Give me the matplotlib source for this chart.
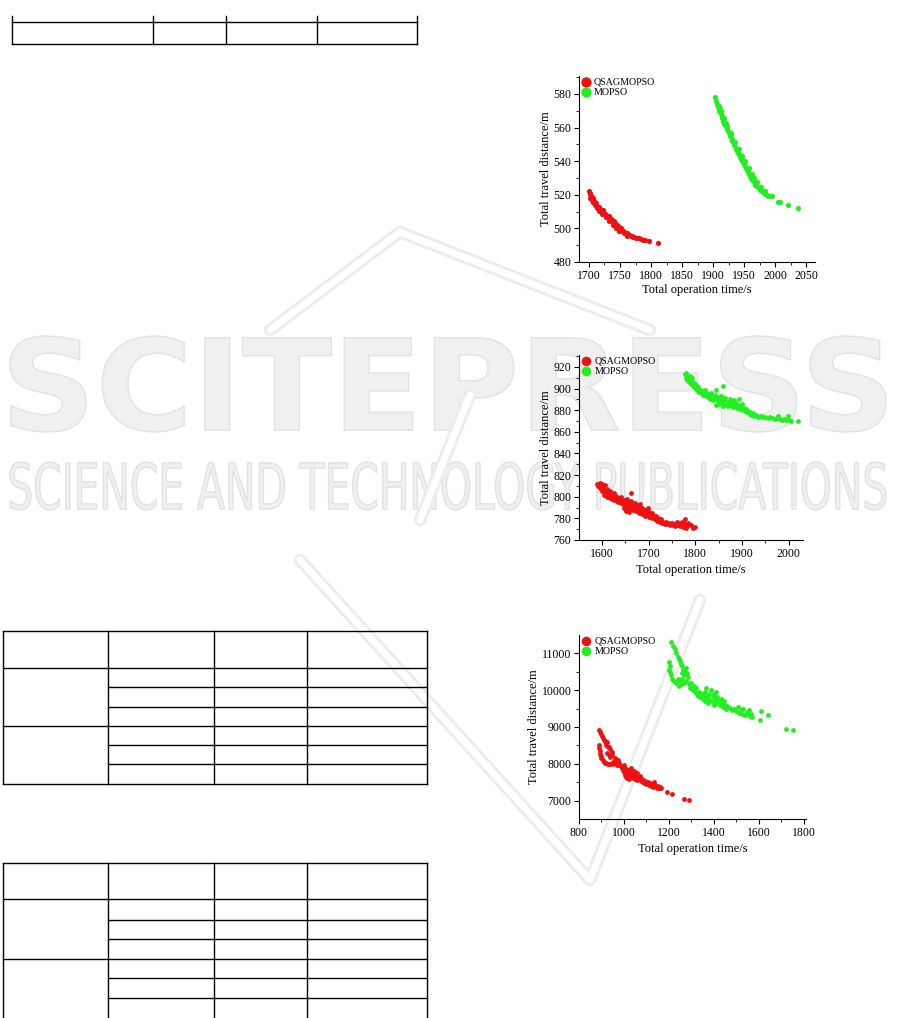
import matplotlib
matplotlib.use('Agg')
import matplotlib.pyplot as plt
import numpy as np
from matplotlib.textpath import TextPath
from matplotlib.font_manager import FontProperties
from matplotlib.patches import PathPatch
from matplotlib.ticker import AutoMinorLocator
import matplotlib.transforms as mtransforms

plt.rcParams['font.family'] = 'Liberation Serif'

W, H = 901, 1018
RED = '#ee1111'
GREEN = '#22ee22'
labels = ['QSAGMOPSO', 'MOPSO']

# ---- data: (total operation time, total travel distance) ----
red1 = np.array([
    [1700, 522], [1701, 520.5], [1702, 521], [1703, 519], [1704, 518.5], [1705, 517], [1706, 518],
    [1707, 516], [1708, 516.5], [1710, 515], [1711, 514], [1712, 515], [1714, 513], [1715, 512.5],
    [1716, 513], [1718, 511.5], [1719, 511], [1720, 510.5], [1722, 510], [1723, 510.8], [1725, 509],
    [1726, 508.5], [1728, 508], [1729, 507], [1731, 506.5], [1732, 507.2], [1734, 506], [1735, 505.5],
    [1737, 505], [1738, 504], [1740, 503.5], [1741, 504.2], [1743, 502.5], [1745, 502], [1746, 501.5],
    [1748, 500.8], [1750, 500], [1751, 500.5], [1753, 499], [1755, 498.5], [1757, 498], [1759, 497.2],
    [1761, 497], [1763, 496.5], [1765, 496], [1767, 495.5], [1769, 495.2], [1771, 495], [1773, 494.8],
    [1775, 494.5], [1778, 494.5], [1781, 494], [1784, 493.5], [1787, 493], [1790, 493], [1796, 492.5],
    [1812, 491.5], [1702, 518], [1706, 515.5], [1709, 514], [1713, 512], [1717, 510.5], [1721, 508.5],
    [1727, 506.5], [1733, 504.5], [1739, 502], [1744, 500.5], [1749, 498.5], [1756, 497], [1762, 495.5]])
green1 = np.array([
    [1903, 578], [1905, 576], [1907, 574], [1908, 572], [1910, 570], [1911, 571], [1912, 568],
    [1914, 566], [1915, 567], [1916, 564], [1918, 562], [1920, 561], [1921, 562.5], [1922, 559],
    [1924, 558], [1925, 556.5], [1927, 555], [1928, 556], [1930, 553], [1931, 552], [1933, 551],
    [1934, 549.5], [1936, 548], [1937, 547], [1939, 546], [1940, 545], [1942, 544], [1943, 542.5],
    [1945, 541.5], [1947, 540], [1948, 541], [1950, 538.5], [1951, 537], [1953, 536], [1955, 535],
    [1956, 533.5], [1958, 532.5], [1960, 531], [1961, 530], [1963, 529], [1965, 528], [1967, 527],
    [1968, 526], [1970, 525.5], [1972, 524.5], [1974, 524], [1976, 523], [1978, 522], [1980, 521.5],
    [1982, 521], [1984, 520.5], [1986, 520], [1988, 519.5], [1991, 519.5], [1994, 519], [2005, 516],
    [2008, 515.5], [2020, 514], [2037, 512], [1909, 573], [1913, 570], [1917, 566], [1923, 561],
    [1929, 557], [1935, 551.5], [1941, 547.5], [1946, 543], [1952, 540], [1957, 536], [1962, 532.5],
    [1966, 530], [1971, 527.5], [1977, 524.5], [1983, 522.5]])

red2 = np.array([
    [1590, 812], [1592, 810], [1595, 813], [1597, 808], [1598, 811], [1600, 812], [1601, 805],
    [1603, 809], [1604, 802], [1605, 806], [1607, 811], [1608, 804], [1610, 807], [1612, 800],
    [1613, 803], [1615, 801], [1617, 805], [1618, 799], [1620, 802], [1622, 798], [1624, 800],
    [1625, 803], [1627, 797], [1628, 799], [1630, 801], [1632, 796], [1634, 798], [1635, 795],
    [1637, 799], [1638, 797], [1640, 794], [1641, 800], [1643, 796], [1645, 793], [1647, 797],
    [1648, 790], [1650, 795], [1651, 787], [1652, 792], [1654, 798], [1655, 794], [1657, 790],
    [1658, 786], [1660, 793], [1661, 789], [1662, 803], [1663, 796], [1665, 791], [1667, 788],
    [1668, 793], [1670, 790], [1671, 794], [1673, 787], [1675, 792], [1676, 789], [1678, 791],
    [1679, 785], [1680, 788], [1682, 793], [1684, 787], [1685, 790], [1687, 784], [1688, 789],
    [1690, 786], [1692, 788], [1693, 782], [1695, 785], [1696, 787], [1698, 784], [1699, 790],
    [1700, 786], [1702, 781], [1703, 784], [1705, 782], [1707, 785], [1708, 780], [1710, 783],
    [1712, 781], [1713, 779], [1715, 782], [1717, 780], [1718, 778], [1720, 780], [1722, 778],
    [1724, 777], [1726, 779], [1728, 776], [1730, 777], [1732, 776], [1735, 775], [1737, 777],
    [1740, 775], [1743, 776], [1745, 774], [1748, 775], [1750, 776], [1752, 774], [1755, 775],
    [1757, 773], [1760, 775], [1762, 777], [1764, 774], [1766, 776], [1768, 773], [1770, 775],
    [1772, 777], [1774, 772], [1776, 776], [1778, 779], [1779, 773], [1781, 771], [1783, 773],
    [1785, 776], [1792, 774], [1795, 771], [1800, 772]])
green2 = np.array([
    [1778, 913], [1780, 910], [1781, 914], [1783, 908], [1784, 911], [1786, 906], [1787, 909],
    [1789, 912], [1790, 904], [1792, 907], [1793, 910], [1795, 903], [1797, 905], [1798, 901],
    [1800, 904], [1802, 900], [1804, 902], [1805, 898], [1807, 901], [1809, 897], [1810, 899],
    [1812, 896], [1814, 898], [1816, 894], [1818, 897], [1820, 895], [1822, 899], [1824, 893],
    [1826, 896], [1828, 892], [1830, 894], [1832, 890], [1834, 896], [1836, 893], [1838, 889],
    [1840, 891], [1842, 894], [1844, 899], [1845, 885], [1846, 889], [1848, 892], [1850, 888],
    [1852, 886], [1854, 890], [1856, 893], [1858, 887], [1859, 902], [1860, 884], [1862, 889],
    [1864, 891], [1866, 886], [1868, 888], [1870, 884], [1872, 887], [1874, 890], [1876, 885],
    [1878, 888], [1880, 883], [1882, 886], [1884, 889], [1886, 884], [1888, 887], [1890, 882],
    [1892, 885], [1894, 890], [1896, 881], [1898, 884], [1900, 886], [1902, 880], [1904, 882],
    [1906, 879], [1908, 881], [1910, 878], [1912, 880], [1915, 877], [1918, 878], [1920, 876],
    [1923, 877], [1926, 875], [1930, 876], [1935, 874], [1940, 875], [1945, 874], [1950, 874],
    [1955, 873], [1960, 874], [1965, 873], [1970, 872], [1975, 873], [1978, 875], [1982, 872],
    [1985, 871], [1990, 872], [1995, 871], [1998, 875], [2000, 871], [2005, 870], [2020, 870]])

red3 = np.array([
    [890, 8930], [895, 8870], [900, 8800], [903, 8750], [906, 8700], [910, 8650], [915, 8620],
    [920, 8580], [925, 8600], [918, 8520], [928, 8470], [935, 8460], [940, 8400], [945, 8330],
    [948, 8250], [940, 8200], [932, 8230], [925, 8300], [890, 8500], [888, 8420], [892, 8350],
    [895, 8280], [898, 8220], [900, 8150], [905, 8100], [910, 8060], [915, 8030], [922, 8020],
    [930, 8010], [938, 8000], [945, 8020], [950, 7990], [955, 8080], [960, 8150], [965, 8050],
    [968, 7970], [972, 8100], [975, 7980], [980, 8020], [985, 7950], [990, 7900], [995, 7850],
    [998, 7970], [1000, 7780], [1003, 7700], [1005, 7900], [1008, 7650], [1010, 7800], [1012, 7620],
    [1015, 7750], [1018, 7680], [1020, 7850], [1022, 7600], [1025, 7720], [1028, 7800], [1030, 7650],
    [1032, 7900], [1035, 7700], [1038, 7620], [1040, 7760], [1042, 7680], [1045, 7820], [1048, 7600],
    [1050, 7700], [1055, 7650], [1058, 7750], [1060, 7580], [1065, 7620], [1070, 7680], [1075, 7550],
    [1080, 7600], [1085, 7520], [1090, 7480], [1095, 7550], [1100, 7460], [1105, 7500], [1110, 7420],
    [1115, 7480], [1120, 7400], [1125, 7450], [1130, 7380], [1135, 7500], [1140, 7420], [1145, 7360],
    [1150, 7400], [1155, 7340], [1160, 7380], [1165, 7350], [1190, 7250], [1215, 7200], [1265, 7050],
    [1290, 7030]])
green3 = np.array([
    [1210, 11300], [1218, 11200], [1225, 11100], [1232, 11000], [1238, 10900], [1245, 10850],
    [1250, 10780], [1255, 10700], [1260, 10650], [1262, 10550], [1258, 10450], [1265, 10400],
    [1270, 10500], [1275, 10600], [1280, 10450], [1283, 10350], [1275, 10250], [1268, 10200],
    [1260, 10300], [1255, 10150], [1200, 10750], [1203, 10650], [1198, 10550], [1205, 10480],
    [1210, 10400], [1215, 10300], [1222, 10250], [1230, 10200], [1240, 10300], [1245, 10100],
    [1250, 10250], [1290, 10150], [1295, 10050], [1300, 10200], [1305, 10000], [1310, 10100],
    [1315, 9950], [1320, 10050], [1325, 9900], [1330, 9850], [1335, 9950], [1340, 9800],
    [1345, 9900], [1350, 9750], [1355, 9850], [1360, 9950], [1362, 9700], [1365, 10050],
    [1370, 9800], [1375, 9650], [1378, 9900], [1380, 9750], [1385, 10000], [1390, 9700],
    [1395, 9850], [1398, 9600], [1400, 9900], [1405, 9750], [1408, 9950], [1410, 9650],
    [1415, 9800], [1420, 9700], [1425, 9600], [1430, 9750], [1435, 9650], [1440, 9550],
    [1445, 9700], [1450, 9600], [1455, 9500], [1460, 9580], [1470, 9520], [1480, 9450],
    [1490, 9500], [1500, 9420], [1505, 9550], [1510, 9380], [1520, 9450], [1525, 9350],
    [1530, 9480], [1540, 9320], [1545, 9400], [1550, 9350], [1555, 9450], [1560, 9300],
    [1565, 9360], [1570, 9280], [1605, 9200], [1610, 9420], [1640, 9320], [1720, 8950],
    [1750, 8920]])

xticks1 = [1700, 1750, 1800, 1850, 1900, 1950, 2000, 2050]
yticks1 = [480, 500, 520, 540, 560, 580]
xticks2 = [1600, 1700, 1800, 1900, 2000]
yticks2 = [760, 780, 800, 820, 840, 860, 880, 900, 920]
xticks3 = [800, 1000, 1200, 1400, 1600, 1800]
yticks3 = [7000, 8000, 9000, 10000, 11000]


def rect(l, t, r, b):
    # pixel box (top-left origin) -> figure fraction
    return [l / W, 1 - b / H, (r - l) / W, (b - t) / H]


fig = plt.figure(figsize=(W / 100, H / 100), dpi=100)

# page overlay: tables and watermark
bg = fig.add_axes([0, 0, 1, 1], zorder=-1)
bg.set_xlim(0, W)
bg.set_ylim(H, 0)
bg.axis('off')


def fit_text(s, l, t, r, b, weight='bold'):
    tp = TextPath((0, 0), s, size=100, prop=FontProperties(family='DejaVu Sans', weight=weight))
    ext = tp.get_extents()
    tr = (mtransforms.Affine2D().translate(-ext.x0, -ext.y0)
          .scale((r - l) / ext.width, -(b - t) / ext.height).translate(l, b))
    bg.add_patch(PathPatch(tr.transform_path(tp), fc='#f0f0f0', ec='#e2e2e2', lw=1.0))


# faint book logo behind the watermark text
for pts in ([(270, 330), (400, 232), (650, 330)],
            [(300, 560), (590, 880), (700, 600)],
            [(470, 395), (420, 520)]):
    px, py = zip(*pts)
    bg.plot(px, py, c='#ececec', lw=9, solid_capstyle='round', solid_joinstyle='round')
    bg.plot(px, py, c='white', lw=5, solid_capstyle='round', solid_joinstyle='round')

fit_text('SCITEPRESS', 10, 336, 886, 432)
fit_text('SCIENCE AND TECHNOLOGY PUBLICATIONS', 10, 462, 886, 510, weight='normal')


def table_lines(hs, vs, y0, y1):
    for (y, xa, xb) in hs:
        bg.plot([xa, xb], [y, y], c='k', lw=1.0)
    for x in vs:
        bg.plot([x, x], [y0, y1], c='k', lw=1.0)


table_lines([(22, 12, 417), (44, 12, 417)], [12, 153, 226, 317, 417], 16, 44)
vcols = [3, 108, 214, 307, 427]
table_lines([(631, 3, 427), (668, 3, 427), (687, 108, 427), (707, 108, 427), (726, 3, 427),
             (745, 108, 427), (764, 108, 427), (784, 3, 427)], vcols, 631, 784)
table_lines([(863, 3, 427), (899, 3, 427), (920, 108, 427), (939, 108, 427), (959, 3, 427),
             (978, 108, 427), (998, 108, 427)], vcols, 863, 1018)


def scatter_panel(box, red, green, xlim, ylim, xticks, yticks, size=12, xpad=3):
    ax = fig.add_axes(rect(*box))
    ax.patch.set_alpha(0)
    ax.scatter(red[:, 0], red[:, 1], s=size, c=RED, lw=0, label=labels[0])
    ax.scatter(green[:, 0], green[:, 1], s=size, c=GREEN, lw=0, label=labels[1])
    ax.set_xlim(*xlim)
    ax.set_ylim(*ylim)
    ax.set_xticks(xticks)
    ax.set_yticks(yticks)
    ax.xaxis.set_minor_locator(AutoMinorLocator(2))
    ax.yaxis.set_minor_locator(AutoMinorLocator(2))
    ax.spines['top'].set_visible(False)
    ax.spines['right'].set_visible(False)
    for sp in ('left', 'bottom'):
        ax.spines[sp].set_linewidth(0.8)
    ax.tick_params(which='major', direction='out', length=3.5, width=0.8, labelsize=8.5, pad=2)
    ax.tick_params(which='minor', direction='out', length=2, width=0.6)
    ax.set_xlabel('Total operation time/s', fontsize=9, labelpad=xpad)
    ax.set_ylabel('Total travel distance/m', fontsize=9, labelpad=1)
    ax.legend(loc='upper left', bbox_to_anchor=(-0.025, 1.03), frameon=False, fontsize=7.2,
              markerscale=2.0, handletextpad=0.2, labelspacing=0.15, borderaxespad=0.3,
              handlelength=1.2)
    return ax


scatter_panel((579, 76, 815, 262), red1, green1, (1684, 2064), (480, 590.7), xticks1, yticks1,
              size=14, xpad=2)
scatter_panel((579, 355, 803, 540), red2, green2, (1551, 2031), (760, 931), xticks2, yticks2)
scatter_panel((579, 635, 806, 819), red3, green3, (800, 1809), (6513, 11487), xticks3, yticks3)

fig.savefig('out.png', dpi=100)
